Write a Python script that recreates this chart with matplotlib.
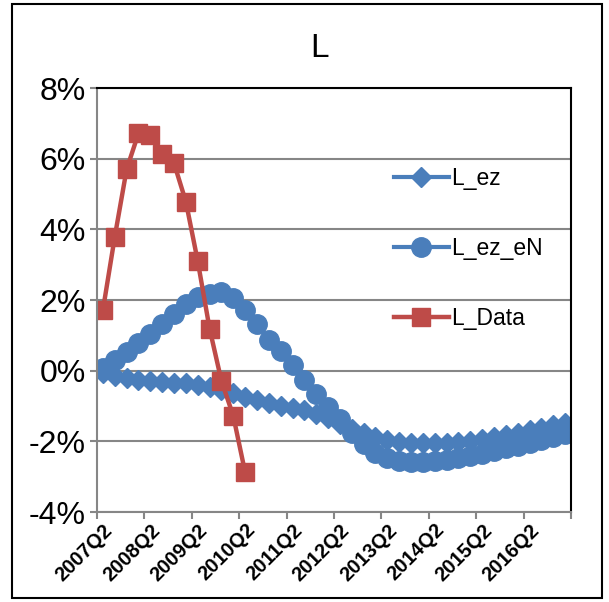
import matplotlib
matplotlib.use("Agg")
import matplotlib.pyplot as plt
from matplotlib.patches import Rectangle
from matplotlib.ticker import FixedLocator, FuncFormatter
from matplotlib.transforms import ScaledTranslation

plt.rcParams['font.family'] = ['Liberation Sans', 'DejaVu Sans']

# quarterly series, first category = 2007Q2 (values in %)
l_ez = [-0.08, -0.16, -0.22, -0.27, -0.30, -0.32, -0.34, -0.36, -0.40, -0.46,
        -0.54, -0.64, -0.74, -0.84, -0.92, -0.99, -1.05, -1.12, -1.22, -1.35,
        -1.50, -1.64, -1.77, -1.88, -1.96, -2.01, -2.04, -2.06, -2.06, -2.05,
        -2.02, -1.98, -1.93, -1.87, -1.81, -1.75, -1.68, -1.61, -1.54, -1.47]
l_ez_en = [0.08, 0.30, 0.52, 0.77, 1.05, 1.33, 1.60, 1.88, 2.08, 2.18,
           2.22, 2.05, 1.72, 1.33, 0.88, 0.55, 0.15, -0.26, -0.66, -1.02,
           -1.38, -1.75, -2.08, -2.32, -2.47, -2.55, -2.58, -2.58, -2.56, -2.52,
           -2.47, -2.41, -2.35, -2.28, -2.20, -2.12, -2.04, -1.96, -1.88, -1.79]
l_data = [1.72, 3.79, 5.70, 6.72, 6.68, 6.12, 5.87, 4.78, 3.10, 1.19, -0.29, -1.28, -2.88]

tick_labels = ["2007Q2", "2008Q2", "2009Q2", "2010Q2", "2011Q2",
               "2012Q2", "2013Q2", "2014Q2", "2015Q2", "2016Q2"]

blue = "#4A7EBB"
red = "#BE4B48"
grey = "#868686"

fig = plt.figure(figsize=(6.09, 6.02), dpi=100)
ax = fig.add_axes([0.1593, 0.1495, 0.7783, 0.7043])

n = len(l_ez)
x = list(range(n))
ax.plot(x, l_ez, color=blue, lw=3, marker="D", ms=10, label="L_ez")
ax.plot(x, l_ez_en, color=blue, lw=3, marker="o", ms=14, label="L_ez_eN")
ax.plot(range(len(l_data)), l_data, color=red, lw=3.2, marker="s", ms=13.5, label="L_Data")

ax.set_xlim(-0.5, n - 0.5)
ax.set_ylim(-4, 8)
ax.set_yticks(range(-4, 9, 2))
ax.yaxis.set_major_formatter(FuncFormatter(lambda v, p: f"{v:.0f}%"))
ax.grid(axis="y", color=grey, lw=1.5)
ax.set_axisbelow(True)

# tick marks between category groups, labels on categories
ax.xaxis.set_major_locator(FixedLocator([i - 0.5 for i in range(0, n + 1, 4)]))
ax.xaxis.set_major_formatter(FuncFormatter(lambda v, p: ""))
ax.xaxis.set_minor_locator(FixedLocator(list(range(0, 4 * len(tick_labels), 4))))
ax.set_xticklabels(tick_labels, minor=True, rotation=45, ha="right", va="top",
                   rotation_mode="anchor", fontsize=14.5, fontweight="bold")
for lab in ax.get_xticklabels(minor=True):
    lab.set_transform(lab.get_transform() + ScaledTranslation(0.06, -0.13, fig.dpi_scale_trans))
ax.tick_params(axis="x", which="minor", length=0, pad=6)
ax.tick_params(axis="x", which="major", length=5, width=1.5, color=grey)
ax.tick_params(axis="y", length=5, width=1.5, color=grey, labelsize=23, pad=3)

for side in ("left", "bottom"):
    ax.spines[side].set_color(grey)
    ax.spines[side].set_linewidth(1.5)
for side in ("top", "right"):
    ax.spines[side].set_color("black")
    ax.spines[side].set_linewidth(1.5)

ax.set_title("L", fontsize=24, pad=22, x=0.47)

ax.legend(loc="upper left", bbox_to_anchor=(0.626, 0.814), frameon=False,
          fontsize=16.5, borderpad=0, borderaxespad=0, handlelength=2.4,
          handletextpad=0.1, labelspacing=2.05)

fig.patches.append(Rectangle((0.0197, 0.0066), 0.9688, 0.9868, transform=fig.transFigure,
                             fill=False, edgecolor="black", lw=1.5))

fig.savefig("out.png", dpi=100)
